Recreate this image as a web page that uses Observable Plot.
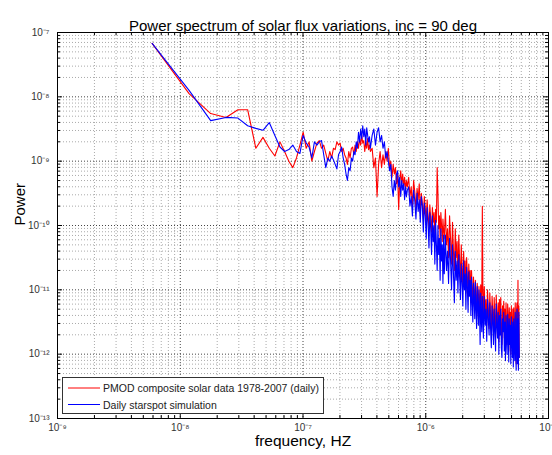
<!DOCTYPE html>
<html><head><meta charset="utf-8">
<script src="https://cdn.jsdelivr.net/npm/d3@7"></script>
<script src="https://cdn.jsdelivr.net/npm/@observablehq/plot@0.6"></script>
<style>body{margin:0;background:#fff;}</style>
</head><body><div id="chart"></div>
<script>
const title = "Power spectrum of solar flux variations, inc = 90 deg";
const xLabel = "frequency, HZ";
const yLabel = "Power";
const seriesNames = ["PMOD composite solar data 1978-2007 (daily)", "Daily starspot simulation"];
const seriesColors = ["#ff0000", "#0000ff"];
const xTickExps = [-9, -8, -7, -6, -5];
const yTickExps = [-13, -12, -11, -10, -9, -8, -7];
const freqStep = 5.9e-9; // Hz between spectral bins
// [first bin, last bin, step] for each block of sampled bins
const binBlocks = [[1, 60, 1], [62, 120, 2], [123, 240, 3], [245, 500, 5], [508, 980, 8]];

// log10(power), one list per block
const pmodLog = [
 [-7.17,-7.95,-8.26,-8.32,-8.20,-8.20,-8.80,-8.63,-8.80,-8.92,
  -8.70,-8.85,-9.00,-9.10,-8.95,-8.75,-8.55,-8.80,-8.70,-9.00,
  -8.85,-8.72,-8.68,-8.80,-8.75,-8.88,-9.00,-8.85,-8.95,-8.80,
  -8.82,-8.70,-8.75,-8.72,-8.85,-8.80,-8.90,-8.95,-9.05,-8.85,
  -8.95,-8.80,-8.78,-8.90,-8.75,-8.85,-8.70,-8.80,-8.65,-8.75,
  -8.60,-8.72,-8.68,-8.85,-8.70,-8.80,-8.65,-8.82,-8.75,-8.85],
 [-8.80,-9.10,-8.95,-9.55,-9.05,-8.85,-9.10,-8.90,-9.05,-8.85,
  -9.00,-8.80,-9.10,-9.00,-9.25,-9.05,-9.20,-9.10,-9.35,-9.20,
  -9.75,-9.30,-9.15,-9.35,-9.20,-9.40,-9.25,-9.45,-9.30,-9.40],
 [-9.25,-9.55,-9.40,-9.70,-9.30,-9.48,-9.75,-9.42,-9.60,-9.35,
  -9.80,-9.50,-9.65,-9.90,-9.55,-9.72,-9.95,-9.60,-9.85,-10.05,
  -9.68,-9.90,-10.10,-9.72,-9.95,-9.80,-10.15,-9.75,-9.95,-9.10,
  -9.50,-10.05,-9.85,-10.20,-9.80,-10.00,-10.25,-9.90,-10.10,-10.20],
 [-9.75,-10.30,-10.05,-10.50,-9.85,-10.20,-10.60,-9.95,-10.40,-10.70,
  -10.05,-10.50,-10.25,-10.80,-10.15,-10.55,-10.85,-10.30,-10.65,-10.95,
  -10.40,-10.75,-10.55,-11.05,-10.50,-10.80,-11.10,-10.60,-10.90,-10.70,
  -11.20,-10.70,-11.00,-11.25,-10.80,-11.05,-11.30,-10.85,-11.15,-11.40,
  -10.90,-11.10,-11.45,-10.95,-11.20,-11.40,-10.92,-11.30,-11.05,-9.70,
  -11.00,-11.45],
 [-10.95,-11.35,-11.15,-11.55,-11.00,-11.30,-11.60,-11.05,-11.40,-11.70,
  -11.10,-11.35,-11.65,-11.12,-11.45,-11.75,-11.08,-11.40,-11.60,-11.20,
  -11.80,-11.15,-11.50,-11.12,-11.70,-11.85,-11.25,-11.50,-11.18,-11.75,
  -11.30,-11.90,-11.20,-11.55,-11.85,-11.22,-11.45,-11.95,-11.28,-11.70,
  -11.35,-12.00,-11.25,-11.55,-11.90,-11.30,-12.05,-11.28,-11.65,-12.00,
  -11.20,-11.80,-12.15,-11.30,-11.20,-12.10,-10.85,-12.20,-11.25,-12.05]
];
const simLog = [
 [-7.17,-7.90,-8.37,-8.32,-8.33,-8.45,-8.49,-8.52,-8.40,-8.60,
  -8.78,-8.85,-8.82,-8.75,-8.85,-8.88,-8.60,-8.72,-8.78,-8.95,
  -8.70,-8.75,-8.70,-8.68,-8.90,-9.10,-8.95,-9.00,-8.92,-8.98,
  -9.05,-9.12,-8.90,-8.85,-8.78,-8.95,-9.05,-9.20,-9.30,-9.10,
  -9.15,-8.95,-9.00,-8.85,-8.90,-8.70,-8.80,-8.55,-8.70,-8.50,
  -8.65,-8.45,-8.62,-8.50,-8.75,-8.48,-8.60,-8.70,-8.62,-8.80],
 [-8.60,-8.50,-8.75,-8.55,-8.48,-8.70,-8.60,-8.80,-8.70,-8.95,
  -8.85,-9.00,-9.15,-9.05,-9.40,-9.55,-9.30,-9.45,-9.20,-9.15,
  -9.40,-9.25,-9.55,-9.30,-9.45,-9.35,-9.60,-9.40,-9.55,-9.45],
 [-9.40,-9.70,-9.55,-9.85,-9.45,-9.62,-9.90,-9.50,-9.78,-9.60,
  -9.95,-9.55,-9.70,-10.10,-9.65,-9.85,-10.20,-9.72,-9.95,-10.35,
  -9.80,-10.05,-10.45,-9.85,-10.25,-10.00,-10.60,-9.92,-10.30,-10.70,
  -10.00,-10.45,-10.20,-10.85,-10.05,-10.55,-10.30,-10.90,-10.15,-10.75],
 [-10.15,-10.70,-10.40,-10.90,-10.20,-10.55,-11.00,-10.30,-10.75,-11.20,
  -10.40,-10.85,-10.55,-11.05,-10.45,-10.80,-11.15,-10.60,-10.90,-11.25,
  -10.55,-11.00,-10.75,-11.30,-10.65,-10.95,-11.35,-10.72,-11.10,-10.85,
  -11.40,-10.80,-11.20,-11.50,-10.90,-11.15,-11.45,-10.88,-11.30,-11.60,
  -10.95,-11.25,-11.55,-11.00,-11.35,-11.85,-11.05,-11.45,-11.65,-11.10,
  -11.40,-11.75],
 [-11.10,-11.55,-11.30,-11.80,-11.15,-11.45,-11.70,-11.20,-11.60,-11.90,
  -11.25,-11.50,-11.85,-11.30,-11.65,-11.95,-11.22,-11.55,-11.75,-11.35,
  -12.00,-11.40,-11.70,-11.30,-11.90,-12.05,-11.45,-11.65,-11.35,-11.95,
  -11.50,-12.10,-11.40,-11.75,-12.00,-11.38,-11.60,-12.12,-11.45,-11.85,
  -11.55,-12.15,-11.42,-11.70,-12.05,-11.50,-12.20,-11.45,-11.80,-12.10,
  -11.35,-11.95,-12.25,-11.50,-11.30,-12.15,-11.45,-12.25,-11.35,-12.05]
];

function buildSeries(logBlocks, name) {
  const out = [];
  binBlocks.forEach(([a, b, s], i) => {
    const ks = d3.range(a, b + 1, s);
    const vals = logBlocks[i];
    const n = Math.min(ks.length, vals.length);
    for (let j = 0; j < n; j++) out.push({series: name, f: ks[j] * freqStep, p: Math.pow(10, vals[j])});
  });
  return out;
}
const pmod = buildSeries(pmodLog, seriesNames[0]);
const sim = buildSeries(simLog, seriesNames[1]);

const supMap = {"-": "\u207B", "0": "\u2070", "1": "\u00B9", "2": "\u00B2", "3": "\u00B3", "4": "\u2074", "5": "\u2075", "6": "\u2076", "7": "\u2077", "8": "\u2078", "9": "\u2079"};
const fmt = d => "10" + String(Math.round(Math.log10(d))).split("").map(c => supMap[c]).join("");

const xTicks = xTickExps.map(e => Math.pow(10, e));
const yTicks = yTickExps.map(e => Math.pow(10, e));
const minorOf = exps => exps.slice(0, -1).flatMap(e => d3.range(2, 10).map(m => m * Math.pow(10, e)));
const xMinor = minorOf(xTickExps);
const yMinor = minorOf(yTickExps);

const W = 552, H = 455, mL = 57, mR = 4, mT = 32, mB = 37;
const pw = W - mL - mR, ph = H - mT - mB;

const svg = Plot.plot({
  width: W, height: H,
  marginLeft: mL, marginRight: mR, marginTop: mT, marginBottom: mB,
  style: {fontFamily: "'Liberation Sans', Arial, sans-serif", fontSize: "10px", color: "#333", background: "#fff"},
  x: {type: "log", domain: [1e-9, 1e-5], ticks: xTicks, tickFormat: fmt, tickSize: 0, tickPadding: 5, label: null},
  y: {type: "log", domain: [1e-13, 1e-7], ticks: yTicks, tickFormat: fmt, tickSize: 0, tickPadding: 8, label: null},
  marks: [
    Plot.ruleX(xMinor, {x: d => d, stroke: "#aaa", strokeDasharray: "1,2"}),
    Plot.ruleY(yMinor, {y: d => d, stroke: "#aaa", strokeDasharray: "1,2"}),
    Plot.ruleX(xTicks, {x: d => d, stroke: "#444", strokeDasharray: "1,2"}),
    Plot.ruleY(yTicks, {y: d => d, stroke: "#444", strokeDasharray: "1,2"}),
    Plot.tickX(xTicks, {x: d => d, insetTop: ph - 5, stroke: "#000"}),
    Plot.tickX(xTicks, {x: d => d, insetBottom: ph - 5, stroke: "#000"}),
    Plot.tickX(xMinor, {x: d => d, insetTop: ph - 3, stroke: "#000"}),
    Plot.tickX(xMinor, {x: d => d, insetBottom: ph - 3, stroke: "#000"}),
    Plot.tickY(yTicks, {y: d => d, insetRight: pw - 5, stroke: "#000"}),
    Plot.tickY(yTicks, {y: d => d, insetLeft: pw - 5, stroke: "#000"}),
    Plot.tickY(yMinor, {y: d => d, insetRight: pw - 3, stroke: "#000"}),
    Plot.tickY(yMinor, {y: d => d, insetLeft: pw - 3, stroke: "#000"}),
    Plot.line(pmod, {x: "f", y: "p", stroke: seriesColors[0], strokeWidth: 1.1}),
    Plot.line(sim, {x: "f", y: "p", stroke: seriesColors[1], strokeWidth: 1.1}),
    Plot.frame({stroke: "#000"}),
    Plot.text([title], {text: d => d, frameAnchor: "top", dy: -12, fontSize: 15, fill: "#000"}),
    Plot.text([xLabel], {text: d => d, frameAnchor: "bottom", dy: 27, fontSize: 15.5, fill: "#000"}),
    Plot.text([yLabel], {text: d => d, frameAnchor: "left", dx: -37, rotate: -90, fontSize: 15, fill: "#000"})
  ]
});

// legend box (bottom-left, inside the axes)
const lg = d3.select(svg).append("g")
  .attr("font-family", "'Liberation Sans', Arial, sans-serif")
  .attr("font-size", "10.5px")
  .attr("text-anchor", "start");
lg.append("rect").attr("x", 62.5).attr("y", 377.5).attr("width", 261).attr("height", 36).attr("fill", "#fff").attr("stroke", "#333");
seriesNames.forEach((name, i) => {
  const yy = 388 + i * 16.5;
  lg.append("line").attr("x1", 68).attr("x2", 100).attr("y1", yy).attr("y2", yy).attr("stroke", seriesColors[i]);
  lg.append("text").attr("x", 103).attr("y", yy + 4).attr("fill", "#222").attr("text-anchor", "start").text(name);
});

document.getElementById("chart").appendChild(svg);
</script>
</body></html>
